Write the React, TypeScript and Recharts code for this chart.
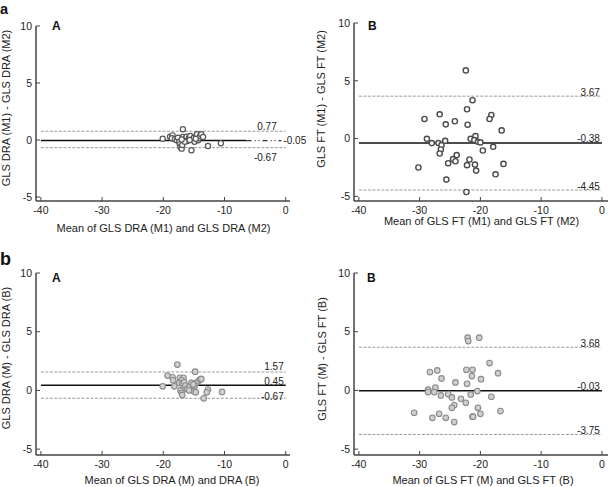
import React from 'react';
import { ScatterChart, Scatter, XAxis, YAxis, ReferenceLine } from 'recharts';

const FONT = '"Liberation Sans", Arial, Helvetica, sans-serif';

const xTicks = [-40, -30, -20, -10, 0];
const yTicks = [-5, 0, 5, 10];

// Panel a / A : GLS DRA (M1) vs (M2)
const aA_mean = [-20.1, -18.9, -18.5, -18.6, -18.1, -17.8, -17.6, -17.4, -17.3, -17.2, -17.0, -16.9, -16.8, -16.8, -16.5, -16.2, -16.1, -15.8, -15.6, -15.4, -15.2, -15.0, -14.9, -14.6, -14.5, -14.3, -14.2, -14.0, -13.8, -13.5, -12.7, -10.6, -16.5, -15.7, -14.7, -17.0];
const aA_diff = [0.11, 0.29, 0.41, 0.15, 0.06, -0.03, 0.2, -0.15, -0.38, -0.61, -0.76, -0.44, 0.94, 0.26, 0.06, 0.29, -0.09, 0.2, 0.35, -0.9, 0.06, 0.2, -0.15, 0.26, 0.5, -0.03, 0.15, 0.35, 0.5, 0.26, -0.53, -0.29, -0.15, 0.0, 0.1, 0.05];
const aA_limits = [0.77, -0.05, -0.67];

// Panel a / B : GLS FT (M1) vs (M2)
const aB_mean = [-22.4, -21.3, -22.2, -29.2, -26.7, -25.7, -24.2, -22.1, -18.2, -18.5, -16.5, -28.8, -28.0, -26.9, -26.4, -25.8, -26.5, -26.7, -21.6, -20.8, -21.0, -20.4, -20.0, -19.6, -17.9, -30.2, -25.3, -24.5, -23.9, -24.1, -21.8, -22.2, -20.9, -20.7, -17.5, -16.2, -25.6, -22.3];
const aB_diff = [5.9, 3.32, 2.54, 1.7, 2.1, 1.23, 1.5, 1.2, 2.04, 1.7, 0.71, -0.02, -0.39, -0.39, -0.57, -0.19, -0.94, -1.29, -0.02, 0.22, -0.13, -0.28, -0.33, -1.03, -0.71, -2.5, -2.13, -1.78, -1.43, -1.96, -1.81, -2.3, -2.25, -2.77, -3.09, -2.19, -3.55, -4.62];
const aB_limits = [3.67, -0.38, -4.45];

// Panel b / A : GLS DRA (M) vs DRA (B)
const bA_mean = [-17.7, -14.8, -20.1, -19.3, -18.5, -18.4, -18.2, -17.3, -16.7, -17.0, -17.4, -16.9, -16.6, -16.4, -17.2, -17.0, -16.9, -16.1, -15.7, -15.4, -15.2, -15.0, -14.9, -14.7, -14.6, -14.3, -14.0, -13.8, -15.8, -13.4, -12.7, -12.9, -10.4, -15.1];
const bA_diff = [2.2, 1.6, 0.35, 1.26, 1.12, 0.86, 0.35, 1.07, 1.07, 0.86, 0.64, 0.58, 0.69, 0.41, 0.0, -0.2, -0.38, 0.13, 0.35, 0.64, 0.07, -0.07, 0.35, -0.16, 0.64, 0.78, 0.92, 0.98, 0.01, -0.67, 0.07, -0.16, -0.13, 0.5];
const bA_limits = [1.57, 0.45, -0.67];

// Panel b / B : GLS FT (M) vs GLS FT (B)
const bB_mean = [-22.1, -22.0, -20.2, -18.5, -17.1, -28.3, -27.1, -26.4, -22.3, -21.3, -21.4, -19.9, -24.1, -22.2, -28.6, -28.6, -27.4, -27.6, -26.5, -25.3, -24.7, -23.2, -22.4, -21.6, -20.5, -18.2, -24.3, -24.7, -20.4, -20.0, -30.9, -27.9, -26.8, -25.7, -24.3, -21.3, -21.2, -16.7];
const bB_diff = [4.49, 4.2, 4.49, 2.33, 1.47, 1.56, 1.7, 1.02, 1.76, 1.76, 1.22, 0.96, 0.68, 0.57, 0.06, -0.14, 0.23, -0.14, -0.43, -0.31, -0.6, -0.71, -1.05, -0.34, -0.06, -0.54, -1.25, -1.48, -1.48, -1.99, -1.9, -2.33, -1.99, -2.33, -2.7, -2.24, -2.24, -1.76];
const bB_limits = [3.68, -0.03, -3.75];

const zip = (m: number[], d: number[]) => m.map((v, i) => ({ m: v, d: d[i] }));
const fmt = (v: number) => v.toFixed(2);

const circleShape = (r: number, fill: string, stroke: string, sw: number) => (props: any) => (
  <circle cx={props.cx} cy={props.cy} r={r} fill={fill} stroke={stroke} strokeWidth={sw} />
);

const makeLabel = (text: string, dx: number, dy: number, anchor: 'start' | 'end' = 'end', size = 10) => (props: any) => {
  const vb = props.viewBox || {};
  const x = (vb.x ?? 0) + (vb.width ?? 0) + dx;
  const y = (vb.y ?? 0) + dy;
  return (
    <text x={x} y={y} textAnchor={anchor} fontSize={size} fontFamily={FONT} fill="#222">
      {text}
    </text>
  );
};

type PanelProps = {
  left: number; top: number; width: number; height: number;
  marginTop: number; marginRight: number; yAxisW: number; xAxisH: number;
  yDomain: [number, number]; xDomain: [number, number];
  data: { m: number; d: number }[];
  limits: number[];
  shape: (p: any) => React.ReactElement;
  labelDx: number;
  upperDy: number; meanDy: number; lowerDy: number;
  special?: boolean;
};

function Panel(p: PanelProps) {
  const [upper, mean, lower] = p.limits;
  const limitStroke = '#9a9a9a';
  const limitDash = '3 1.5';
  return (
    <div style={{ position: 'absolute', left: p.left, top: p.top, width: p.width, height: p.height }}>
      <ScatterChart width={p.width} height={p.height} margin={{ top: p.marginTop, right: p.marginRight, left: 0, bottom: 0 }}>
        <XAxis
          type="number" dataKey="m" domain={p.xDomain} allowDataOverflow ticks={xTicks}
          height={p.xAxisH} tickSize={-4} tickMargin={10}
          axisLine={{ stroke: '#444', strokeWidth: 1.5 }} tickLine={{ stroke: '#444' }}
          tick={{ fontSize: 10.5, fill: '#222', fontFamily: FONT }}
        />
        <YAxis
          type="number" dataKey="d" domain={p.yDomain} allowDataOverflow ticks={yTicks}
          width={p.yAxisW} tickSize={-4} tickMargin={8}
          axisLine={{ stroke: '#444', strokeWidth: 1.5 }} tickLine={{ stroke: '#444' }}
          tick={{ fontSize: 10.5, fill: '#222', fontFamily: FONT }}
        />
        <ReferenceLine segment={[{ x: -40, y: upper }, { x: 0, y: upper }]} stroke={limitStroke} strokeDasharray={limitDash} strokeWidth={1}
          label={makeLabel(fmt(upper), p.labelDx, p.upperDy)} />
        <ReferenceLine segment={[{ x: -40, y: lower }, { x: 0, y: lower }]} stroke={limitStroke} strokeDasharray={limitDash} strokeWidth={1}
          label={makeLabel(fmt(lower), p.labelDx, p.lowerDy)} />
        {p.special ? (
          <ReferenceLine segment={[{ x: -40, y: mean }, { x: -6.4, y: mean }]} stroke="#111" strokeWidth={1.5} />
        ) : (
          <ReferenceLine segment={[{ x: -40, y: mean }, { x: 0, y: mean }]} stroke="#111" strokeWidth={1.5}
            label={makeLabel(fmt(mean), p.labelDx, p.meanDy)} />
        )}
        {p.special ? (
          <ReferenceLine segment={[{ x: -6.4, y: mean }, { x: -0.7, y: mean }]} stroke="#333" strokeWidth={1.2} strokeDasharray="5 3 1 3 1 3"
            label={makeLabel(fmt(mean), 2, 3.5, 'start')} />
        ) : null}
        <Scatter data={p.data} isAnimationActive={false} shape={p.shape} />
      </ScatterChart>
    </div>
  );
}

const titleStyle = { fontSize: 11, fontFamily: FONT, fill: '#222' } as const;

export default function App() {
  const openDark = circleShape(2.6, '#fff', '#555', 1.2);
  const openDark2 = circleShape(2.6, '#fff', '#4a4a4a', 1.4);
  const filled = circleShape(2.8, '#cfcfcf', '#8a8a8a', 1.1);
  return (
    <div style={{ position: 'absolute', left: 0, top: 0, width: 609, height: 487, background: '#fff', overflow: 'hidden' }}>
      <Panel left={0} top={0} width={312} height={240} marginTop={26} marginRight={22} yAxisW={36} xAxisH={39}
        yDomain={[-5.35, 10]} xDomain={[-40.8, 0.7]} data={zip(aA_mean, aA_diff)} limits={aA_limits}
        shape={openDark} labelDx={-9} upperDy={-1.5} meanDy={0} lowerDy={13} special />
      <Panel left={305} top={0} width={304} height={240} marginTop={23} marginRight={1} yAxisW={49} xAxisH={39}
        yDomain={[-5.4, 10]} xDomain={[-40.8, 1.0]} data={zip(aB_mean, aB_diff)} limits={aB_limits}
        shape={openDark2} labelDx={-2} upperDy={-0.5} meanDy={-0.5} lowerDy={-0.5} />
      <Panel left={0} top={240} width={312} height={247} marginTop={33} marginRight={22} yAxisW={36} xAxisH={32}
        yDomain={[-5.5, 10]} xDomain={[-40.8, 0.7]} data={zip(bA_mean, bA_diff)} limits={bA_limits}
        shape={filled} labelDx={-2} upperDy={-1.5} meanDy={-0.5} lowerDy={1.5} />
      <Panel left={305} top={240} width={304} height={247} marginTop={33} marginRight={1} yAxisW={49} xAxisH={32}
        yDomain={[-5.5, 10]} xDomain={[-40.8, 1.0]} data={zip(bB_mean, bB_diff)} limits={bB_limits}
        shape={filled} labelDx={-2} upperDy={-0.5} meanDy={-0.5} lowerDy={-0.5} />
      <svg width={609} height={487} style={{ position: 'absolute', left: 0, top: 0, pointerEvents: 'none' }}>
        <text x={0} y={13.5} fontSize={14.5} fontWeight="bold" fontFamily={FONT} fill="#111">a</text>
        <text x={0} y={265} fontSize={18} fontWeight="bold" fontFamily={FONT} fill="#111">b</text>
        <text x={52} y={30} fontSize={12} fontWeight="bold" fontFamily={FONT} fill="#111">A</text>
        <text x={368} y={29.5} fontSize={12} fontWeight="bold" fontFamily={FONT} fill="#111">B</text>
        <text x={52} y={282} fontSize={12} fontWeight="bold" fontFamily={FONT} fill="#111">A</text>
        <text x={367} y={281.5} fontSize={12} fontWeight="bold" fontFamily={FONT} fill="#111">B</text>
        <text x={163.5} y={232} textAnchor="middle" {...titleStyle}>Mean of GLS DRA (M1) and GLS DRA (M2)</text>
        <text x={481.5} y={225} textAnchor="middle" {...titleStyle}>Mean of GLS FT (M1) and GLS FT (M2)</text>
        <text x={172} y={484} textAnchor="middle" {...titleStyle}>Mean of GLS DRA (M) and DRA (B)</text>
        <text x={483} y={484} textAnchor="middle" {...titleStyle}>Mean of GLS FT (M) and GLS FT (B)</text>
        <text x={10} y={108} textAnchor="middle" transform="rotate(-90 10 108)" {...titleStyle}>GLS DRA (M1) - GLS DRA (M2)</text>
        <text x={325} y={99} textAnchor="middle" transform="rotate(-90 325 99)" {...titleStyle}>GLS FT (M1) - GLS FT (M2)</text>
        <text x={10} y={358} textAnchor="middle" transform="rotate(-90 10 358)" {...titleStyle}>GLS DRA (M) - GLS DRA (B)</text>
        <text x={326} y={359} textAnchor="middle" transform="rotate(-90 326 359)" {...titleStyle}>GLS FT (M) - GLS FT (B)</text>
      </svg>
    </div>
  );
}
